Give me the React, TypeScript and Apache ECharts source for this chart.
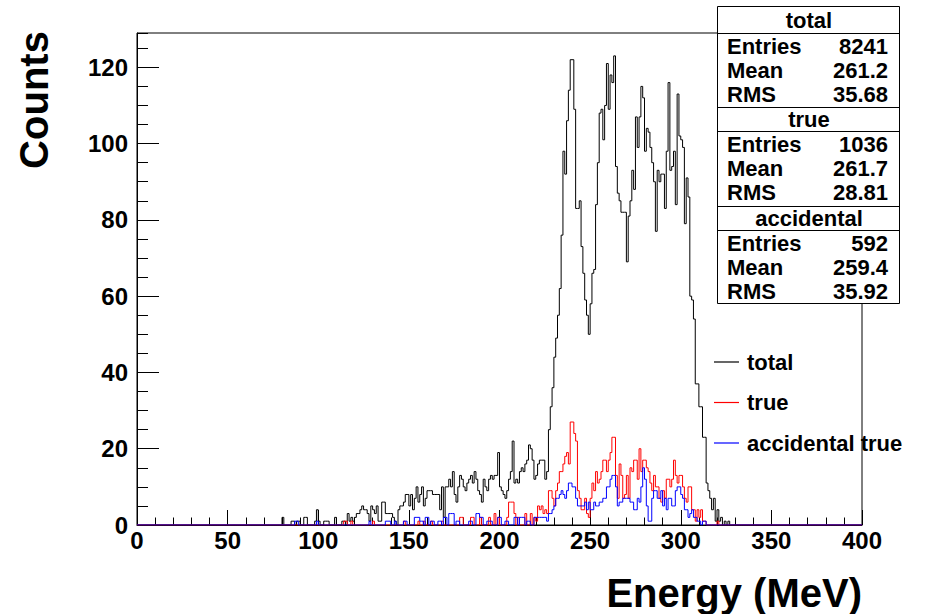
import React, { useEffect, useRef } from "react";
import * as echarts from "echarts";

// ---------------- data (bin width 1 MeV, 0-400 MeV) ----------------
const nBins = 400;

// total: bins starting at 80 MeV
const totalStart = 80;
const totalCounts = [
  2, 0, 0, 0, 0, 1, 1, 0, 1, 1,
  0, 0, 2, 2, 0, 0, 0, 0, 1, 4,
  1, 0, 0, 1, 1, 1, 0, 0, 0, 2,
  0, 0, 0, 1, 1, 0, 3, 1, 2, 1,
  2, 3, 3, 4, 5, 4, 4, 3, 1, 5,
  4, 3, 5, 1, 1, 6, 6, 3, 3, 3,
  3, 2, 1, 0, 4, 5, 5, 6, 8, 8,
  5, 8, 4, 7, 10, 6, 8, 10, 5, 7,
  9, 9, 9, 8, 8, 8, 8, 4, 10, 2,
  10, 10, 12, 10, 14, 8, 6, 10, 13, 12,
  10, 9, 11, 12, 13, 11, 14, 12, 9, 8,
  6, 12, 10, 9, 12, 13, 12, 13, 13, 19,
  10, 9, 8, 7, 9, 12, 14, 22, 11, 12,
  11, 14, 15, 14, 16, 17, 21, 20, 17, 12,
  13, 16, 17, 17, 17, 12, 14, 25, 31, 36,
  44, 49, 55, 62, 76, 98, 92, 106, 114, 122,
  122, 109, 83, 83, 85, 73, 66, 59, 55, 50,
  58, 66, 67, 84, 95, 108, 109, 101, 110, 121,
  109, 118, 116, 123, 94, 87, 85, 82, 82, 82,
  69, 81, 85, 93, 88, 107, 99, 107, 115, 112,
  98, 104, 103, 99, 95, 90, 77, 93, 90, 92,
  92, 83, 98, 116, 93, 94, 98, 84, 113, 102,
  101, 99, 79, 91, 86, 60, 59, 54, 37, 37,
  31, 31, 23, 23, 11, 9, 7, 4, 7, 1,
  4, 1, 2, 0, 1, 0, 1,
];

// true: bins starting at 114 MeV
const trueStart = 114;
const trueCounts = [
  1, 1, 0, 0, 1, 0,
  0, 0, 0, 0, 0, 0, 0, 0, 0, 0,
  1, 0, 0, 0, 0, 0, 0, 0, 0, 0,
  0, 0, 0, 0, 0, 0, 0, 1, 0, 0,
  0, 0, 0, 0, 0, 1, 0, 0, 1, 0,
  0, 0, 1, 0, 0, 0, 0, 0, 1, 0,
  0, 0, 0, 0, 0, 0, 0, 0, 2, 2,
  0, 0, 0, 0, 2, 2, 0, 0, 0, 2,
  0, 0, 0, 0, 2, 0, 0, 3, 0, 2,
  0, 0, 0, 0, 2, 6, 6, 6, 3, 0,
  2, 0, 0, 0, 3, 0, 0, 3, 0, 2,
  1, 5, 4, 5, 3, 4, 3, 9, 9, 7,
  5, 9, 11, 14, 14, 16, 18, 19, 16, 27,
  27, 24, 22, 9, 7, 4, 4, 7, 3, 2,
  7, 11, 9, 14, 11, 12, 14, 17, 17, 14,
  17, 19, 23, 23, 13, 7, 16, 13, 7, 8,
  13, 7, 15, 14, 17, 17, 12, 20, 14, 17,
  17, 15, 14, 11, 9, 13, 10, 10, 7, 6,
  9, 7, 12, 12, 10, 12, 17, 13, 11, 13,
  13, 10, 7, 6, 10, 10, 4, 4, 1, 4,
  2, 4, 1, 1, 0, 0, 0, 0, 0, 0, 1,
];

// accidental: bins starting at 87 MeV
const accStart = 87;
const accCounts = [
  1, 1, 0,
  0, 0, 0, 0, 0, 0, 0, 0, 0, 1,
  0, 0, 0, 0, 0, 0, 0, 0, 0, 0,
  0, 0, 0, 0, 0, 0, 0, 0, 0, 0,
  0, 0, 0, 0, 0, 0, 0, 0, 1, 0,
  0, 0, 0, 0, 0, 0, 0, 1, 1, 1,
  0, 0, 1, 0, 0, 0, 0, 1, 1, 0,
  0, 0, 0, 2, 2, 2, 1, 1, 0, 2,
  2, 0, 1, 1, 0, 0, 1, 1, 0, 2,
  2, 0, 3, 3, 3, 0, 1, 1, 0, 0,
  0, 0, 0, 1, 1, 0, 0, 3, 3, 2,
  2, 0, 0, 1, 1, 1, 0, 0, 0, 2,
  2, 0, 0, 1, 1, 0, 0, 0, 2, 2,
  0, 2, 2, 2, 0, 1, 1, 0, 0, 2,
  2, 2, 2, 2, 2, 2, 1, 3, 3, 4,
  5, 7, 7, 8, 9, 8, 7, 9, 11, 11,
  10, 10, 7, 5, 5, 5, 5, 6, 4, 6,
  4, 4, 6, 5, 5, 6, 6, 7, 7, 10,
  10, 12, 13, 13, 10, 5, 6, 6, 7, 7,
  7, 7, 6, 6, 4, 4, 7, 6, 10, 15,
  12, 5, 1, 1, 7, 9, 9, 7, 7, 9,
  5, 7, 4, 7, 7, 5, 5, 9, 10, 10,
  8, 7, 4, 4, 2, 3, 4, 2, 2, 1,
  1, 0, 1, 1,
];

const seriesNames = ["total", "true", "accidental true"];
const seriesColors = ["#000000", "#ff0000", "#0000ff"];

// stats boxes
const statTitles = ["total", "true", "accidental"];
const statEntries = ["8241", "1036", "592"];
const statMeans = ["261.2", "261.7", "259.4"];
const statRms = ["35.68", "28.81", "35.92"];
const statLabels = ["Entries", "Mean", "RMS"];

const xTitle = "Energy (MeV)";
const yTitle = "Counts";

// ---------------- helpers ----------------
function toSteps(start: number, counts: number[]) {
  const pts: number[][] = [];
  let last = 0;
  for (let b = 0; b < nBins; b++) {
    const i = b - start;
    const v = i >= 0 && i < counts.length ? counts[i] : 0;
    pts.push([b, v]);
    last = v;
  }
  pts.push([nBins, last]);
  return pts;
}

const FONT = '"Liberation Sans", Arial, Helvetica, sans-serif';

export default function App() {
  const ref = useRef<HTMLDivElement>(null);

  useEffect(() => {
    if (!ref.current) return;
    const chart = echarts.init(ref.current, undefined, { renderer: "svg" });

    const dataSets = [
      toSteps(totalStart, totalCounts),
      toSteps(trueStart, trueCounts),
      toSteps(accStart, accCounts),
    ];

    // stats box geometry
    const boxX = 717;
    const boxW = 182;
    const boxes = [
      { y0: 6, yh: 33, y1: 107, head: 20, rows: [46, 70, 94] },
      { y0: 107, yh: 131, y1: 206, head: 119, rows: [144, 168, 192] },
      { y0: 206, yh: 230, y1: 303, head: 218, rows: [243, 267, 291] },
    ];
    const statVals = [statEntries, statMeans, statRms];
    const graphics: any[] = [];
    graphics.push({
      type: "rect",
      z: 100,
      shape: { x: boxX + 0.5, y: boxes[0].y0 + 0.5, width: boxW, height: boxes[2].y1 - boxes[0].y0 },
      style: { fill: "#fff", stroke: "#000", lineWidth: 1 },
    });
    boxes.forEach((b, k) => {
      const lines = [b.yh];
      if (k > 0) lines.push(b.y0);
      lines.forEach((ly) =>
        graphics.push({
          type: "line",
          z: 101,
          shape: { x1: boxX, y1: ly + 0.5, x2: boxX + boxW + 0.5, y2: ly + 0.5 },
          style: { stroke: "#000", lineWidth: 1 },
        })
      );
      graphics.push({
        type: "text",
        z: 102,
        x: boxX + boxW / 2 + 1,
        y: b.head,
        style: {
          text: statTitles[k],
          align: "center",
          verticalAlign: "middle",
          fontSize: 22,
          fontWeight: "bold",
          fontFamily: FONT,
          fill: "#000",
        },
      });
      b.rows.forEach((ry, r) => {
        graphics.push({
          type: "text",
          z: 102,
          x: 727,
          y: ry,
          style: {
            text: statLabels[r],
            align: "left",
            verticalAlign: "middle",
            fontSize: 22,
            fontWeight: "bold",
            fontFamily: FONT,
            fill: "#000",
          },
        });
        graphics.push({
          type: "text",
          z: 102,
          x: 888,
          y: ry,
          style: {
            text: statVals[r][k],
            align: "right",
            verticalAlign: "middle",
            fontSize: 22,
            fontWeight: "bold",
            fontFamily: FONT,
            fill: "#000",
          },
        });
      });
    });
    // axis titles
    graphics.push({
      type: "text",
      z: 50,
      x: 862,
      y: 593,
      style: {
        text: xTitle,
        align: "right",
        verticalAlign: "middle",
        fontSize: 40,
        fontWeight: "bold",
        fontFamily: FONT,
        fill: "#000",
      },
    });
    graphics.push({
      type: "text",
      z: 50,
      x: 34,
      y: 100,
      rotation: Math.PI / 2,
      style: {
        text: yTitle,
        align: "center",
        verticalAlign: "middle",
        fontSize: 40,
        fontWeight: "bold",
        fontFamily: FONT,
        fill: "#000",
      },
    });

    const option: any = {
      animation: false,
      backgroundColor: "#ffffff",
      grid: {
        left: 137,
        right: 65,
        top: 33,
        bottom: 89,
        show: true,
        borderColor: "#000",
        borderWidth: 1,
        backgroundColor: "transparent",
      },
      legend: {
        orient: "vertical",
        left: 714,
        top: 351,
        padding: 0,
        icon: "rect",
        itemWidth: 25,
        itemHeight: 1.2,
        itemGap: 18.5,
        selectedMode: false,
        data: seriesNames,
        textStyle: {
          fontSize: 22,
          fontWeight: "bold",
          fontFamily: FONT,
          color: "#000",
          lineHeight: 22,
          padding: [0, 0, 0, 3],
        },
      },
      xAxis: {
        type: "value",
        min: 0,
        max: 400,
        interval: 50,
        axisLine: { show: true, onZero: false, lineStyle: { color: "#000", width: 1 } },
        axisTick: { show: true, inside: true, length: 15, lineStyle: { color: "#000" } },
        minorTick: { show: true, splitNumber: 5, length: 7.5, lineStyle: { color: "#000" } },
        axisLabel: {
          fontSize: 24,
          fontWeight: "bold",
          fontFamily: FONT,
          color: "#000",
          margin: 3,
        },
        splitLine: { show: false },
      },
      yAxis: [
        {
          type: "value",
          min: 0,
          max: 129,
          interval: 20,
          position: "left",
          axisLine: { show: true, onZero: false, lineStyle: { color: "#000", width: 1 } },
          axisTick: { show: true, inside: true, length: 22, lineStyle: { color: "#000" } },
          axisLabel: {
            fontSize: 24,
            fontWeight: "bold",
            fontFamily: FONT,
            color: "#000",
            margin: 9,
            showMaxLabel: false,
            formatter: (v: number) => (v % 20 === 0 ? String(v) : ""),
          },
          splitLine: { show: false },
        },
        {
          type: "value",
          min: 0,
          max: 129,
          interval: 5,
          position: "left",
          offset: 0,
          axisLine: { show: false },
          axisTick: { show: true, inside: true, length: 11, lineStyle: { color: "#000" } },
          axisLabel: { show: false },
          splitLine: { show: false },
        },
      ],
      series: seriesNames.map((name, k) => ({
        name,
        type: "line",
        step: "end",
        symbol: "none",
        showSymbol: false,
        silent: true,
        xAxisIndex: 0,
        yAxisIndex: 0,
        z: 2 + k,
        data: dataSets[k],
        lineStyle: { color: seriesColors[k], width: 1 },
        itemStyle: { color: seriesColors[k] },
      })),
      graphic: graphics,
    };

    chart.setOption(option);
    return () => chart.dispose();
  }, []);

  return (
    <div
      ref={ref}
      style={{ position: "absolute", left: 0, top: 0, width: 927, height: 614, background: "#fff" }}
    />
  );
}
